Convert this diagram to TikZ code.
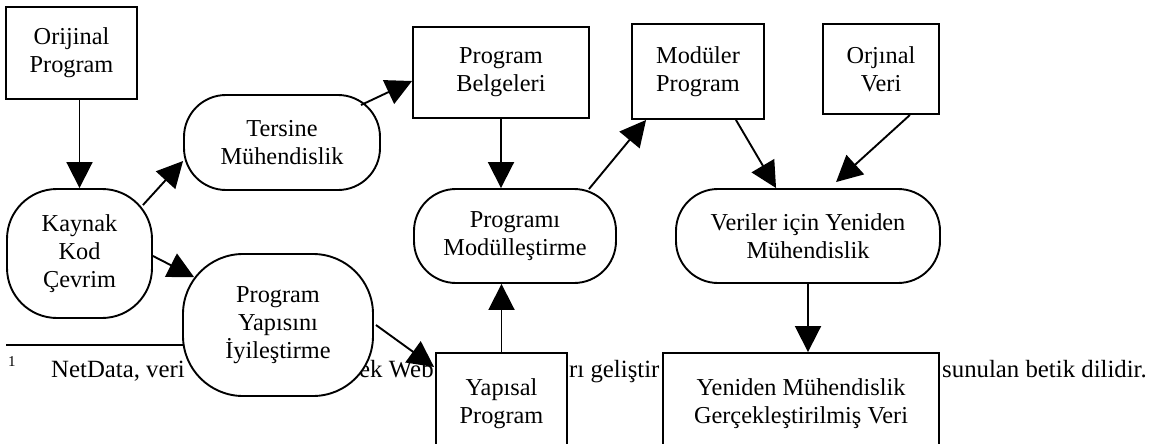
\documentclass[tikz,border=0pt]{standalone}
\usepackage{fontspec}
\setmainfont{Liberation Serif}
\usetikzlibrary{arrows.meta,calc}
\newcommand\nodefont{\fontsize{24.3}{28}\selectfont}
\newcommand\notefont{\fontsize{24.8}{28}\selectfont}
\tikzset{
  box/.style={draw, line width=1.9pt, fill=white, inner sep=0pt, align=center, font=\nodefont},
  rbox/.style={box, rounded corners=#1},
  arr/.style={line width=1.9pt, -{Triangle[length=26pt,width=26pt]}},
  note/.style={inner sep=0pt, anchor=base west, font=\notefont}
}
\begin{document}
\begin{tikzpicture}[x=1pt,y=-1pt]
\useasboundingbox (0,0) rectangle (1161,444);
% footnote (behind the diagram)
\coordinate (fl0) at (6,345);
\coordinate (fl1) at (220,345);
\draw[line width=1.9pt] (fl0) -- (fl1);
\node[inner sep=0pt, anchor=base west, font=\fontsize{15}{16}\selectfont] (fn1) at (8,366) {1};
\node[note] (ft1) at (51,377) {NetData, veri};
\node[note] (ft2) at (359,377) {ek Web};
\node[note] (ft3) at (569,377) {rı geliştir};
\node[note] (ft4) at (942,377) {sunulan betik dilidir.};
% nodes
\node[box, minimum width=131pt, minimum height=92pt] (orig) at (71.5,53) {Orijinal\\Program};
\node[rbox=42pt, minimum width=196pt, minimum height=95pt] (tersine) at (282,142.5) {Tersine\\Mühendislik};
\node[box, minimum width=176pt, minimum height=91pt] (belge) at (501,72.5) {Program\\Belgeleri};
\node[box, minimum width=132pt, minimum height=95pt] (moduler) at (698,71.5) {Modüler\\Program};
\node[box, minimum width=116pt, minimum height=90pt] (orjveri) at (881,69) {Orjınal\\Veri};
\node[rbox=50pt, minimum width=145pt, minimum height=129pt] (kaynak) at (79.5,253.5) {Kaynak\\Kod\\Çevrim};
\node[rbox=60pt, minimum width=190pt, minimum height=142pt] (yapisini) at (278,325) {Program\\Yapısını\\İyileştirme};
\node[rbox=42pt, minimum width=202pt, minimum height=94pt] (modul) at (515,236) {Programı\\Modülleştirme};
\node[rbox=42pt, minimum width=264pt, minimum height=94pt] (veriler) at (808,236) {Veriler için Yeniden\\Mühendislik};
\node[box, minimum width=131pt, minimum height=102pt] (yapisal) at (501.5,404) {Yapısal\\Program};
\node[box, minimum width=276pt, minimum height=102pt] (yeniden) at (801,404) {Yeniden Mühendislik\\Gerçekleştirilmiş Veri};
% connectors
\draw[arr] (kaynak.north |- orig.south) -- (kaynak.north);
\draw[arr] ([xshift=-10pt,yshift=-17pt]kaynak.north east) -- ([yshift=-18.5pt]tersine.west);
\draw[arr] ([xshift=-20pt,yshift=-11pt]tersine.north east) -- ([yshift=-8.5pt]belge.west);
\draw[arr] ([yshift=-2.5pt]kaynak.east) -- ([xshift=12pt,yshift=-24pt]yapisini.north west);
\draw[arr] ([xshift=2pt]yapisini.east) -- ([xshift=-1pt,yshift=37pt]yapisal.west);
\draw[arr] (belge.south) -- (belge.south |- modul.north);
\draw[arr] (yapisal.north) -- (yapisal.north |- modul.south);
\draw[arr] ([xshift=-28pt,yshift=-1pt]modul.north east) -- ([xshift=15pt]moduler.south west);
\draw[arr] ([xshift=-29pt]moduler.south east) -- ([xshift=101pt]veriler.north west);
\draw[arr] ([xshift=-30pt]orjveri.south east) -- ([xshift=161pt,yshift=6pt]veriler.north west);
\draw[arr] (veriler.south) -- (veriler.south |- yeniden.north);
\end{tikzpicture}
\end{document}
